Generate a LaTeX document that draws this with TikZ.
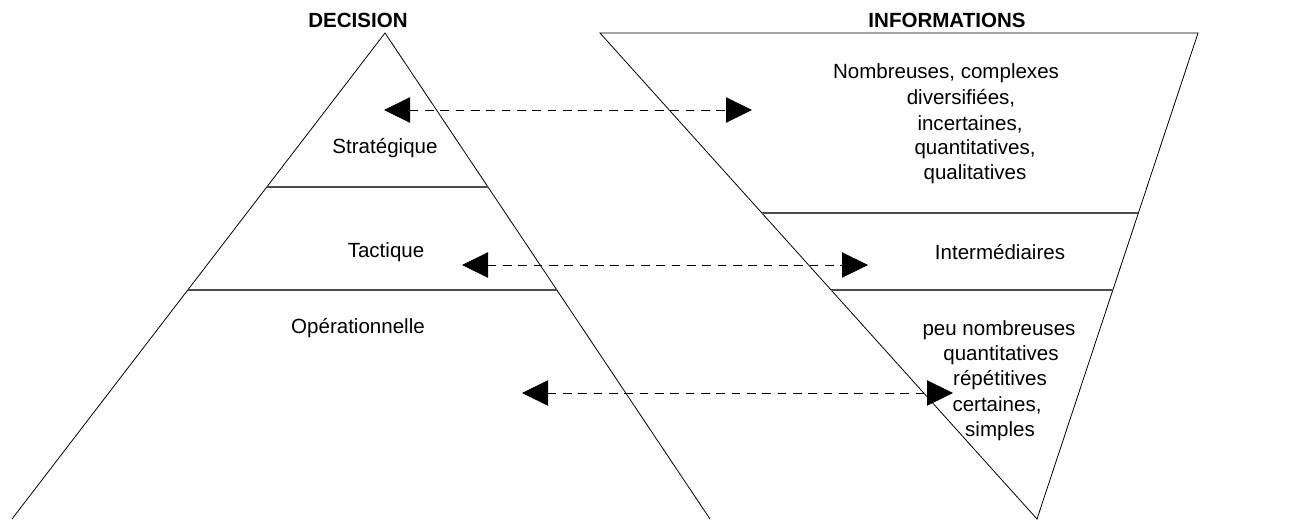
\documentclass[tikz,border=0pt]{standalone}
\usepackage{fontspec}
\setmainfont{Liberation Sans}
\usetikzlibrary{arrows.meta}

\tikzset{
  edge/.style={line width=0.6pt},
  level/.style={line width=0.9pt, color=black!70},
  label/.style={inner sep=0pt, font=\fontsize{15.4}{18.75}\selectfont},
  title/.style={label, font=\fontsize{15.4}{18.75}\selectfont\bfseries},
  dblarrow/.style={line width=0.6pt, dash pattern=on 6.5pt off 5pt,
    {Triangle[length=19.5pt, width=19pt]}-{Triangle[length=19.5pt, width=19pt]}}
}

\begin{document}
\begin{tikzpicture}[x=0.75pt,y=0.75pt,yscale=-1,xscale=1]
\useasboundingbox (0,0) rectangle (1292,519);

%Shape: Triangle (decision)
\coordinate (apex) at (385,33);
\coordinate (baseL) at (12,519);
\coordinate (baseR) at (710,519);
\draw [edge] (baseL) -- (apex) -- (baseR);
%Straight Lines
\draw [level] (267,187) -- (488,187);
\draw [level] (188,290) -- (557,290);

%Shape: Triangle (informations)
\coordinate (topL) at (600,33);
\coordinate (topR) at (1198,33);
\coordinate (tip) at (1037,519);
\draw [edge] (topL) -- (topR) -- (tip) -- cycle;
%Straight Lines
\draw [level] (762,213) -- (1138,213);
\draw [level] (831,290) -- (1113,290);

%Titles
\node [title] (decision) at (358,20) {DECISION};
\node [title] (informations) at (947,20) {INFORMATIONS};

%Text (decision levels)
\node [label] (strat) at (385,148) {Stratégique};
\node [label] (tact) at (386,252) {Tactique};
\node [label] (oper) at (358,328) {Opérationnelle};

%Text (informations)
\node [label] (info1) at (946,73) {Nombreuses, complexes};
\node [label] (info2) at (961,98) {diversifiées,};
\node [label] (info3) at (970,124) {incertaines,};
\node [label] (info4) at (975,149) {quantitatives,};
\node [label] (info5) at (975,174) {qualitatives};
\node [label] (inter) at (1000,252) {Intermédiaires};
\node [label] (peu1) at (999,330) {peu nombreuses};
\node [label] (peu2) at (1001,355) {quantitatives};
\node [label] (peu3) at (1000,380) {répétitives};
\node [label] (peu4) at (997,405) {certaines,};
\node [label] (peu5) at (1000,431) {simples};

%Arrows
\coordinate (aS) at (384,110);
\coordinate (bS) at (752,110);
\coordinate (aT) at (462,265);
\coordinate (bT) at (868,265);
\coordinate (aO) at (522,393);
\coordinate (bO) at (953,393);
\draw [dblarrow] (aS) -- (bS);
\draw [dblarrow] (aT) -- (bT);
\draw [dblarrow] (aO) -- (bO);

\end{tikzpicture}
\end{document}
